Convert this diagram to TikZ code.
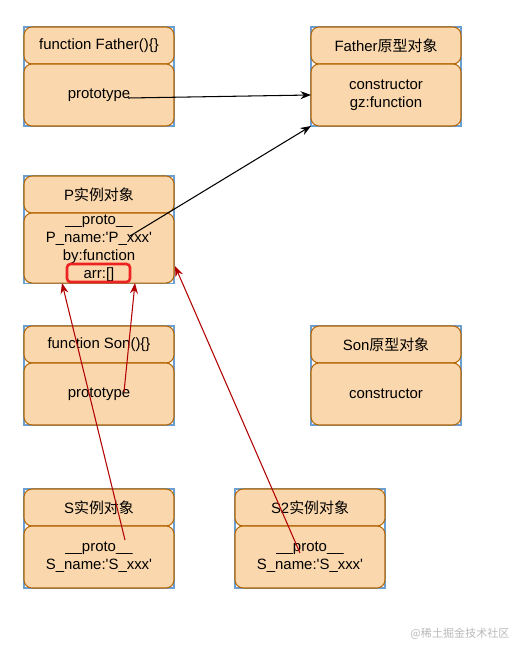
\documentclass[tikz,border=0pt]{standalone}
\usepackage{fontspec}
\setmainfont{Liberation Sans}
\newfontfamily\cjk{Noto Sans CJK SC}
\usetikzlibrary{positioning, arrows.meta, calc, backgrounds}
\definecolor{boxfill}{HTML}{FAD7AC}
\definecolor{boxline}{HTML}{B46504}
\definecolor{cornerblue}{HTML}{6C9FCF}
\definecolor{linkred}{HTML}{B20000}
\definecolor{markred}{HTML}{EE2222}

\begin{document}
\begin{tikzpicture}[
    x=0.02cm, y=-0.02cm,
    font=\fontsize{8.5}{10.2}\selectfont,
    part/.style={draw=boxline, fill=boxfill, line width=0.6pt, rounded corners=0.16cm,
        minimum width=3cm, align=center, inner sep=1pt, outer sep=0pt},
    head/.style={part, minimum height=0.74cm},
    body/.style={part, minimum height=#1},
    body/.default=1.24cm,
    frame/.style={draw=cornerblue, line width=0.6pt},
    link/.style={-{Stealth[length=6pt, width=4.5pt]}, line width=0.6pt}
]
    \useasboundingbox (0,0) rectangle (527,656);

    % ==========================================
    % BOXES
    % ==========================================
    % Father
    \node[head] (fhead) at (99,45.5) {function Father()\{\}};
    \node[body, below=0pt of fhead] (fbody) {prototype};

    % Father prototype object
    \node[head] (fphead) at (386,45.5) {Father{\cjk 原型对象}};
    \node[body, below=0pt of fphead] (fpbody) {constructor\\gz:function};

    % P instance
    \node[head] (phead) at (99,194.5) {P{\cjk 实例对象}};
    \node[body=1.38cm, below=0pt of phead] (pbody)
        {\_\_proto\_\_\\P\_name:\textquotesingle P\_xxx\textquotesingle\\by:function\\arr:[]};

    % Son
    \node[head] (shead) at (99,344.5) {function Son()\{\}};
    \node[body, below=0pt of shead] (sbody) {prototype};

    % Son prototype object
    \node[head] (sphead) at (386,344.5) {Son{\cjk 原型对象}};
    \node[body, below=0pt of sphead] (spbody) {constructor};

    % S instance
    \node[head] (sihead) at (99,507.5) {S{\cjk 实例对象}};
    \node[body, below=0pt of sihead] (sibody)
        {\_\_proto\_\_\\S\_name:\textquotesingle S\_xxx\textquotesingle};

    % S2 instance
    \node[head] (s2head) at (310,507.5) {S2{\cjk 实例对象}};
    \node[body, below=0pt of s2head] (s2body)
        {\_\_proto\_\_\\S\_name:\textquotesingle S\_xxx\textquotesingle};

    % highlight around arr:[]
    \node[draw=markred, line width=1.5pt, rounded corners=2pt,
        minimum width=1.26cm, minimum height=0.36cm] (arrmark) at (98.5,273) {};

    % corner frames behind
    \begin{pgfonlayer}{background}
        \draw[frame] (fhead.north west) rectangle (fbody.south east);
        \draw[frame] (fphead.north west) rectangle (fpbody.south east);
        \draw[frame] (phead.north west) rectangle (pbody.south east);
        \draw[frame] (shead.north west) rectangle (sbody.south east);
        \draw[frame] (sphead.north west) rectangle (spbody.south east);
        \draw[frame] (sihead.north west) rectangle (sibody.south east);
        \draw[frame] (s2head.north west) rectangle (s2body.south east);
    \end{pgfonlayer}

    % ==========================================
    % LINKS
    % ==========================================
    \coordinate (fproto) at (128,98);
    \coordinate (pproto) at (130,236);
    \coordinate (sonproto) at (124,392);
    \coordinate (sproto) at (125,540);
    \coordinate (s2proto) at (300,553);

    \draw[link, black] (fproto) -- (fpbody.west);
    \draw[link, black] (pproto) -- (fpbody.south west);

    \draw[link, linkred] (sonproto) -- ($(pbody.south)+(36,0)$);
    \draw[link, linkred] (sproto) -- ($(pbody.south)+(-37,0)$);
    \draw[link, linkred] (s2proto) -- ($(pbody.east)+(1,18)$);

    % watermark
    \node[text=gray!55, font=\fontsize{6.3}{7}\cjk] (wm) at (460,634) {@稀土掘金技术社区};

\end{tikzpicture}
\end{document}
